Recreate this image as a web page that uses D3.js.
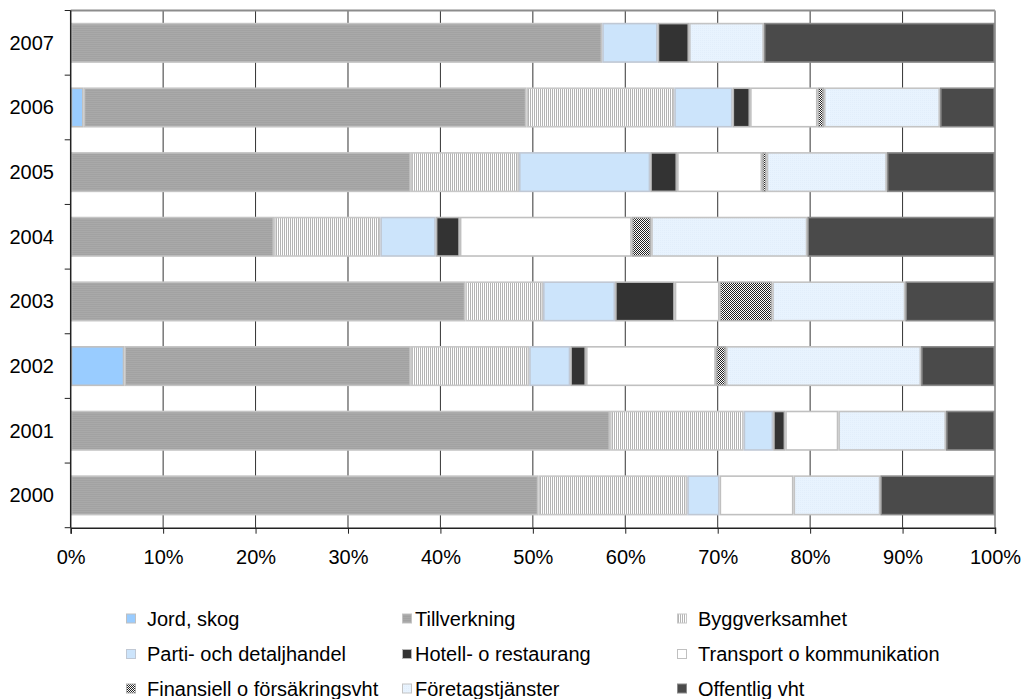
<!DOCTYPE html>
<html><head><meta charset="utf-8">
<script src="https://cdn.jsdelivr.net/npm/d3@7"></script>
<style>
html,body{margin:0;padding:0;background:#fff;}
svg{display:block;font-family:"Liberation Sans",Arial,sans-serif;}
</style></head>
<body>
<svg id="chart" width="1024" height="699"></svg>
<script>
const years = ["2000","2001","2002","2003","2004","2005","2006","2007"];
const categories = ["Jord, skog","Tillverkning","Byggverksamhet","Parti- och detaljhandel","Hotell- o restaurang","Transport o kommunikation","Finansiell o försäkringsvht","Företagstjänster","Offentlig vht"];
// values per category, one per year 2000..2007 (percent)
const jord        = [0,    0,     5.8,  0,    0,    0,    1.4,  0];
const tillverkning= [50.6, 58.35, 31.0, 42.7, 22.0, 36.8, 47.9, 57.5];
const bygg        = [16.1, 14.45, 12.8, 8.4,  11.5, 11.7, 16.0, 0];
const parti       = [3.5,  3.2,   4.45, 7.8,  6.0,  14.2, 6.3,  6.0];
const hotell      = [0,    1.3,   1.7,  6.45, 2.6,  2.9,  1.9,  3.4];
const transport   = [8.0,  5.75,  14.05,4.85, 18.6, 9.2,  7.3,  0];
const finans      = [0,    0,     1.1,  5.7,  2.1,  0.5,  0.7,  0];
const foretag     = [9.4,  11.65, 21.1, 14.4, 16.9, 13.0, 12.55,8.1];
const offentlig   = [12.4, 5.3,   8.0,  9.7,  20.3, 11.7, 5.95, 25.0];
const xTicks = [0,10,20,30,40,50,60,70,80,90,100];
const xTickLabels = ["0%","10%","20%","30%","40%","50%","60%","70%","80%","90%","100%"];

const seriesArrays = [jord,tillverkning,bygg,parti,hotell,transport,finans,foretag,offentlig];
const rows = years.map((y,i)=>{const r={year:y}; categories.forEach((c,k)=>r[c]=seriesArrays[k][i]); return r;});

const svg = d3.select("#chart");
const defs = svg.append("defs");
// patterns
let p = defs.append("pattern").attr("id","pTill").attr("patternUnits","userSpaceOnUse").attr("width",4).attr("height",2);
p.append("rect").attr("width",4).attr("height",2).attr("fill","#a9a9a9");
p.append("rect").attr("width",4).attr("height",1).attr("fill","#a2a2a2");
p = defs.append("pattern").attr("id","pBygg").attr("patternUnits","userSpaceOnUse").attr("width",2).attr("height",2);
p.append("rect").attr("width",2).attr("height",2).attr("fill","#ffffff");
p.append("rect").attr("width",1).attr("height",2).attr("fill","#b4b4b4");
p = defs.append("pattern").attr("id","pFin").attr("patternUnits","userSpaceOnUse").attr("width",2).attr("height",2);
p.append("rect").attr("width",2).attr("height",2).attr("fill","#ffffff");
p.append("rect").attr("width",1).attr("height",1).attr("fill","#222");
p.append("rect").attr("x",1).attr("y",1).attr("width",1).attr("height",1).attr("fill","#222");
p = defs.append("pattern").attr("id","pForetag").attr("patternUnits","userSpaceOnUse").attr("width",2).attr("height",2);
p.append("rect").attr("width",2).attr("height",2).attr("fill","#e8f3fe");
p.append("rect").attr("width",1).attr("height",1).attr("fill","#e2eefb");

const fills = ["#99ccff","url(#pTill)","url(#pBygg)","#cce4fb","#333333","#ffffff","url(#pFin)","url(#pForetag)","#4a4a4a"];
const strokes = ["#c0c0c0","#c4c4c4","#c8c8c8","#c0c8d4","#b8b8b8","#c0c0c0","#b0b0b0","#c4c4c4","#8a8a8a"];

const x0 = 70.7, x1 = 995, yTop = 10.5, yBot = 527.7;
const x = d3.scaleLinear().domain([0,100]).range([x0,x1]);
const y = d3.scaleBand().domain(years.slice().reverse()).range([yTop,yBot]).paddingInner(0.38).paddingOuter(0.19);

// gridlines
svg.append("g").selectAll("line").data(xTicks.filter(d=>d>0&&d<100)).join("line")
  .attr("x1",d=>x(d)).attr("x2",d=>x(d)).attr("y1",yTop).attr("y2",yBot)
  .attr("stroke","#333").attr("stroke-width",1);
// plot frame top/right
svg.append("line").attr("x1",x0).attr("x2",x1).attr("y1",yTop).attr("y2",yTop).attr("stroke","#8c8c8c").attr("stroke-width",2);
svg.append("line").attr("x1",x1).attr("x2",x1).attr("y1",yTop).attr("y2",yBot).attr("stroke","#a0a0a0").attr("stroke-width",2);

// bars
const stack = d3.stack().keys(categories)(rows);
svg.append("g").selectAll("g").data(stack).join("g")
  .attr("fill",(d,i)=>fills[i]).attr("stroke",(d,i)=>strokes[i]).attr("stroke-width",1.6)
  .selectAll("rect").data(d=>d.filter(s=>s[1]-s[0]>0)).join("rect")
  .attr("x",d=>x(d[0])+0.8).attr("width",d=>Math.max(0.5,x(d[1])-x(d[0])-1.6))
  .attr("y",d=>y(d.data.year)+0.8).attr("height",y.bandwidth()-1.6);

// axes
const xAxis = d3.axisBottom(x).tickValues(xTicks).tickFormat((d,i)=>xTickLabels[i]).tickSize(6).tickPadding(16);
const gx = svg.append("g").attr("transform",`translate(0,${yBot})`).call(xAxis);
gx.select(".domain").attr("stroke","#222").attr("stroke-width",1.5);
gx.selectAll(".tick line").attr("stroke","#222");
gx.selectAll("text").attr("font-size",20).attr("fill","#000").attr("font-family","Liberation Sans, Arial, sans-serif");

// left axis
const step = y.step();
const bounds = d3.range(years.length+1).map(i=>yTop + step*i);
svg.append("line").attr("x1",x0).attr("x2",x0).attr("y1",yTop).attr("y2",yBot).attr("stroke","#222").attr("stroke-width",1.5);
svg.append("g").selectAll("line").data(bounds).join("line")
  .attr("x1",x0-6).attr("x2",x0).attr("y1",d=>d).attr("y2",d=>d).attr("stroke","#222").attr("stroke-width",1);
svg.append("g").selectAll("text").data(years).join("text")
  .attr("x",54).attr("y",d=>y(d)+y.bandwidth()/2+7)
  .attr("text-anchor","end").attr("font-size",20).attr("fill","#000").text(d=>d);

// legend
const legX = [126,402,677], txtX = [147,415,698], legY = [618.5,654,688.5];
const leg = svg.append("g");
categories.forEach((c,i)=>{
  const col = i%3, row = Math.floor(i/3);
  leg.append("rect").attr("x",legX[col]+0.5).attr("y",legY[row]-4.5).attr("width",9).attr("height",9)
    .attr("fill",fills[i]).attr("stroke",strokes[i]).attr("stroke-width",1);
  leg.append("text").attr("x",txtX[col]).attr("y",legY[row]+7).attr("font-size",20).attr("fill","#000").text(c);
});
</script>
</body></html>
